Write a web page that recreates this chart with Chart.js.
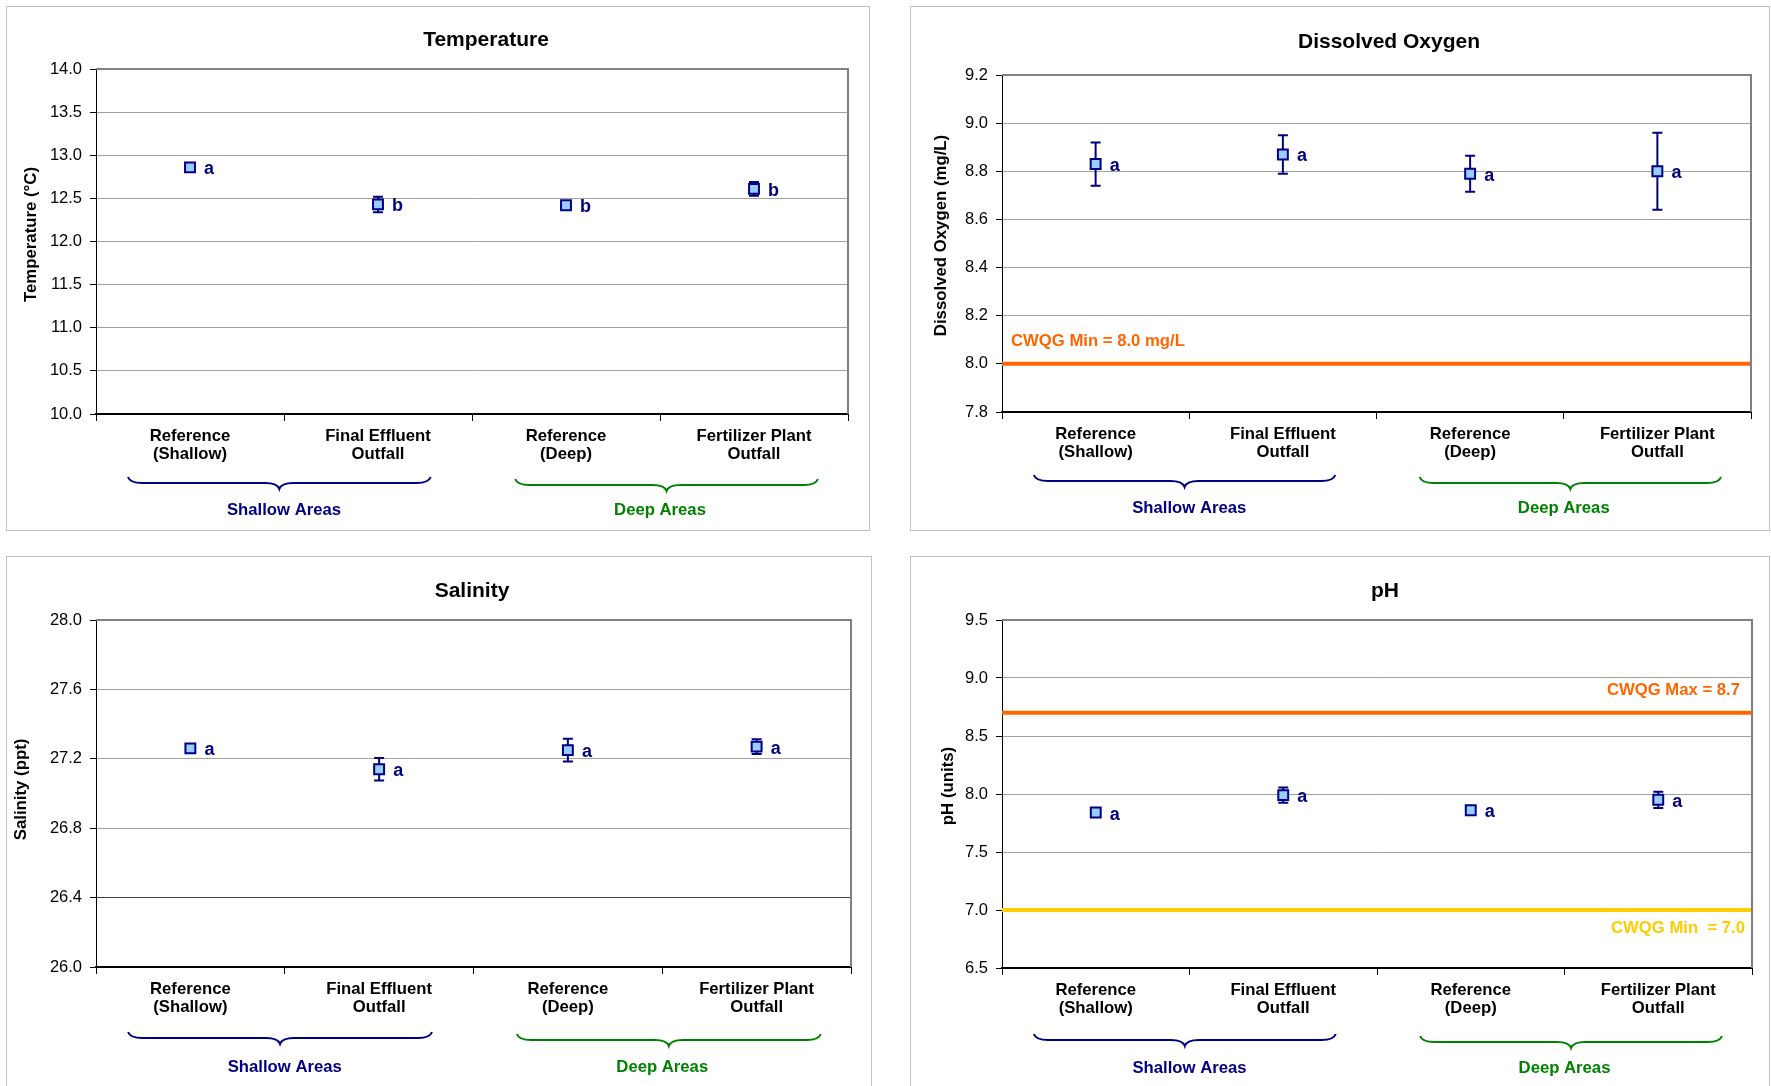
<!DOCTYPE html>
<html>
<head>
<meta charset="utf-8">
<script src="https://cdn.jsdelivr.net/npm/chart.js@4.4.1/dist/chart.umd.min.js"></script>
<style>
  body { margin: 0; background: #fff; width: 1771px; height: 1086px; overflow: hidden; position: relative; }
  .panel { position: absolute; border: 1px solid #c0c0c0; box-sizing: border-box; background: #fff; }
  .panel canvas { position: absolute; left: 0; top: 0; }
</style>
</head>
<body>
<div class="panel"><canvas id="tempChart"></canvas></div>
<div class="panel"><canvas id="doChart"></canvas></div>
<div class="panel"><canvas id="salChart"></canvas></div>
<div class="panel"><canvas id="phChart"></canvas></div>
<script>
// Stations and groups
const categories = [['Reference', '(Shallow)'], ['Final Effluent', 'Outfall'], ['Reference', '(Deep)'], ['Fertilizer Plant', 'Outfall']];
const groupLabels = ['Shallow Areas', 'Deep Areas'];

// Temperature (means, +/- error, significance letters, [min, max, step])
const tempMeans = [12.86, 12.43, 12.42, 12.61];
const tempErrors = [0.03, 0.09, 0.03, 0.08];
const tempLetters = ['a', 'b', 'b', 'b'];
const tempTicks = [10.0, 14.0, 0.5];

// Dissolved oxygen
const doMeans = [8.83, 8.87, 8.79, 8.80];
const doErrors = [0.09, 0.08, 0.075, 0.16];
const doLetters = ['a', 'a', 'a', 'a'];
const doTicks = [7.8, 9.2, 0.2];
const doGuide = 8.0;

// Salinity
const salMeans = [27.26, 27.14, 27.25, 27.27];
const salErrors = [0.02, 0.065, 0.066, 0.042];
const salLetters = ['a', 'a', 'a', 'a'];
const salTicks = [26.0, 28.0, 0.4];

// pH
const phMeans = [7.84, 7.99, 7.86, 7.95];
const phErrors = [0.02, 0.065, 0.02, 0.07];
const phLetters = ['a', 'a', 'a', 'a'];
const phTicks = [6.5, 9.5, 0.5];
const phGuides = [8.7, 7.0];

const FONT = "'Liberation Sans', Arial, sans-serif";
Chart.defaults.font.family = FONT;
Chart.defaults.color = '#000';

const navy = '#000080';
const green = '#008000';
const orange = '#FF6600';
const yellow = '#FFCC00';

function drawBrace(ctx, x0, x1, y, color) {
    const m = (x0 + x1) / 2, h = 6, r = 14;
    ctx.strokeStyle = color;
    ctx.lineWidth = 2;
    ctx.beginPath();
    ctx.moveTo(x0, y - h);
    ctx.quadraticCurveTo(x0 + 2, y, x0 + r, y);
    ctx.lineTo(m - r, y);
    ctx.quadraticCurveTo(m - 2, y, m, y + h);
    ctx.quadraticCurveTo(m + 2, y, m + r, y);
    ctx.lineTo(x1 - r, y);
    ctx.quadraticCurveTo(x1 - 2, y, x1, y - h);
    ctx.stroke();
}

function makeChart(canvasId, cfg) {
    const canvas = document.getElementById(canvasId);
    const panel = canvas.parentNode;
    const [bl, bt, bw, bh] = cfg.box;
    panel.style.left = bl + 'px';
    panel.style.top = bt + 'px';
    panel.style.width = bw + 'px';
    panel.style.height = bh + 'px';
    canvas.width = bw - 2;
    canvas.height = bh - 2;
    const cl = bl + 1, ct = bt + 1;
    const [pl, pt, pr, pb] = cfg.plot;

    const extras = {
        id: 'extras',
        beforeDatasetsDraw(chart) {
            const {ctx, chartArea: a, scales: {x, y}} = chart;
            ctx.save();
            // guideline values
            (cfg.guides || []).forEach(g => {
                const gy = y.getPixelForValue(g.value);
                ctx.strokeStyle = g.color;
                ctx.lineWidth = 4;
                ctx.beginPath();
                ctx.moveTo(a.left, gy);
                ctx.lineTo(a.right, gy);
                ctx.stroke();
                ctx.fillStyle = g.color;
                ctx.font = 'bold 16.7px ' + FONT;
                ctx.textBaseline = 'middle';
                ctx.textAlign = g.align;
                const tx = g.align === 'left' ? a.left + g.inset : a.right - g.inset;
                ctx.fillText(g.label, tx, gy + g.dy);
            });
            // top / right frame
            ctx.strokeStyle = '#808080';
            ctx.lineWidth = 2;
            ctx.beginPath();
            ctx.moveTo(a.left, a.top);
            ctx.lineTo(a.right, a.top);
            ctx.lineTo(a.right, a.bottom);
            ctx.stroke();
            // error bars
            ctx.strokeStyle = navy;
            ctx.lineWidth = 2;
            cfg.means.forEach((m, i) => {
                const px = x.getPixelForValue(i);
                const hi = y.getPixelForValue(m + cfg.errors[i]);
                const lo = y.getPixelForValue(m - cfg.errors[i]);
                ctx.beginPath();
                ctx.moveTo(px, hi); ctx.lineTo(px, lo);
                ctx.moveTo(px - 5, hi); ctx.lineTo(px + 5, hi);
                ctx.moveTo(px - 5, lo); ctx.lineTo(px + 5, lo);
                ctx.stroke();
            });
            ctx.restore();
        },
        afterDatasetsDraw(chart) {
            const {ctx, scales: {x, y}} = chart;
            ctx.save();
            ctx.fillStyle = navy;
            ctx.font = 'bold 18px ' + FONT;
            ctx.textAlign = 'left';
            ctx.textBaseline = 'alphabetic';
            cfg.means.forEach((m, i) => {
                ctx.fillText(cfg.letters[i], x.getPixelForValue(i) + 14, y.getPixelForValue(m) + 7);
            });
            ctx.restore();
        },
        afterDraw(chart) {
            const {ctx, chartArea: a, scales: {x}} = chart;
            const step = x.getPixelForValue(1) - x.getPixelForValue(0);
            ctx.save();
            // chart title and y-axis title
            ctx.fillStyle = '#000';
            ctx.textAlign = 'center';
            ctx.textBaseline = 'middle';
            ctx.font = 'bold 21px ' + FONT;
            ctx.fillText(cfg.title, cfg.titleX - cl, cfg.titleY - ct);
            ctx.save();
            ctx.translate(cfg.yTitleX - cl, (a.top + a.bottom) / 2 + cfg.yTitleDy);
            ctx.rotate(-Math.PI / 2);
            ctx.font = 'bold 16.8px ' + FONT;
            ctx.fillText(cfg.yTitle, 0, 0);
            ctx.restore();
            // group braces
            const groups = [
                {label: groupLabels[0], from: 0, to: 1, padL: 0.33, padR: 0.28, color: navy, dy: 0},
                {label: groupLabels[1], from: 2, to: 3, padL: 0.27, padR: 0.34, color: green, dy: 2}
            ];
            groups.forEach(g => {
                const x0 = x.getPixelForValue(g.from) - g.padL * step;
                const x1 = x.getPixelForValue(g.to) + g.padR * step;
                drawBrace(ctx, x0, x1, a.bottom + cfg.braceY + g.dy, g.color);
                ctx.fillStyle = g.color;
                ctx.font = 'bold 16.7px ' + FONT;
                ctx.textAlign = 'center';
                ctx.textBaseline = 'middle';
                const lx = (x.getPixelForValue(g.from) + x.getPixelForValue(g.to)) / 2;
                ctx.fillText(g.label, lx, a.bottom + cfg.labelY);
            });
            ctx.restore();
        }
    };

    return new Chart(canvas, {
        type: 'line',
        data: {
            labels: categories,
            datasets: [{
                data: cfg.means,
                showLine: false,
                pointStyle: 'rect',
                pointRadius: 7,
                pointHoverRadius: 7,
                pointBackgroundColor: '#99CCFF',
                pointBorderColor: navy,
                pointBorderWidth: 2
            }]
        },
        options: {
            responsive: false,
            animation: false,
            events: [],
            layout: {padding: {left: 0, top: pt - ct, right: (cl + canvas.width) - pr, bottom: 0}},
            plugins: {
                legend: {display: false},
                tooltip: {enabled: false},
                title: {display: false}
            },
            scales: {
                x: {
                    type: 'category',
                    offset: true,
                    grid: {offset: true, drawOnChartArea: false, color: '#000', tickLength: 7},
                    border: {color: '#000', width: 2},
                    ticks: {color: '#000', font: {size: 16.7, weight: 'bold', lineHeight: 1.1}, padding: 6, maxRotation: 0, autoSkip: false},
                    afterFit(scale) { scale.height = ct + canvas.height - pb; }
                },
                y: {
                    min: cfg.ticks[0],
                    max: cfg.ticks[1],
                    ticks: {stepSize: cfg.ticks[2], color: '#000', font: {size: 16.5}, padding: 8, callback: v => v.toFixed(1)},
                    grid: {color: cfg.gridColor || '#A0A0A0', tickColor: '#000', tickLength: 6},
                    border: {color: '#000', width: 1},
                    afterFit(scale) { scale.width = pl - cl; }
                }
            }
        },
        plugins: [extras]
    });
}

makeChart('tempChart', {
    box: [6, 6, 864, 525], plot: [96, 69, 848, 414],
    title: 'Temperature', titleX: 486, titleY: 40,
    yTitle: 'Temperature (\u00B0C)', yTitleX: 31, yTitleDy: -7,
    means: tempMeans, errors: tempErrors, letters: tempLetters, ticks: tempTicks,
    braceY: 69, labelY: 96
});

makeChart('doChart', {
    box: [910, 6, 860, 525], plot: [1002, 75, 1751, 412],
    title: 'Dissolved Oxygen', titleX: 1389, titleY: 42,
    yTitle: 'Dissolved Oxygen (mg/L)', yTitleX: 941, yTitleDy: -8,
    means: doMeans, errors: doErrors, letters: doLetters, ticks: doTicks,
    guides: [{value: doGuide, color: orange, label: 'CWQG Min = 8.0 mg/L', align: 'left', inset: 9, dy: -22}],
    braceY: 69, labelY: 96
});

makeChart('salChart', {
    box: [6, 556, 866, 540], plot: [96, 620, 851, 967],
    title: 'Salinity', titleX: 472, titleY: 591,
    yTitle: 'Salinity (ppt)', yTitleX: 21.5, yTitleDy: -4,
    means: salMeans, errors: salErrors, letters: salLetters, ticks: salTicks,
    gridColor: ctx => (ctx.tick && Math.abs(ctx.tick.value - 26.4) < 1e-6) ? '#404040' : '#A0A0A0',
    braceY: 71, labelY: 100
});

makeChart('phChart', {
    box: [910, 556, 860, 540], plot: [1002, 620, 1752, 968],
    title: 'pH', titleX: 1385, titleY: 591,
    yTitle: 'pH (units)', yTitleX: 948, yTitleDy: -8,
    means: phMeans, errors: phErrors, letters: phLetters, ticks: phTicks,
    guides: [
        {value: phGuides[0], color: orange, label: 'CWQG Max = 8.7', align: 'right', inset: 12, dy: -22},
        {value: phGuides[1], color: yellow, label: 'CWQG Min  = 7.0', align: 'right', inset: 7, dy: 18}
    ],
    braceY: 72, labelY: 100
});
</script>
</body>
</html>
